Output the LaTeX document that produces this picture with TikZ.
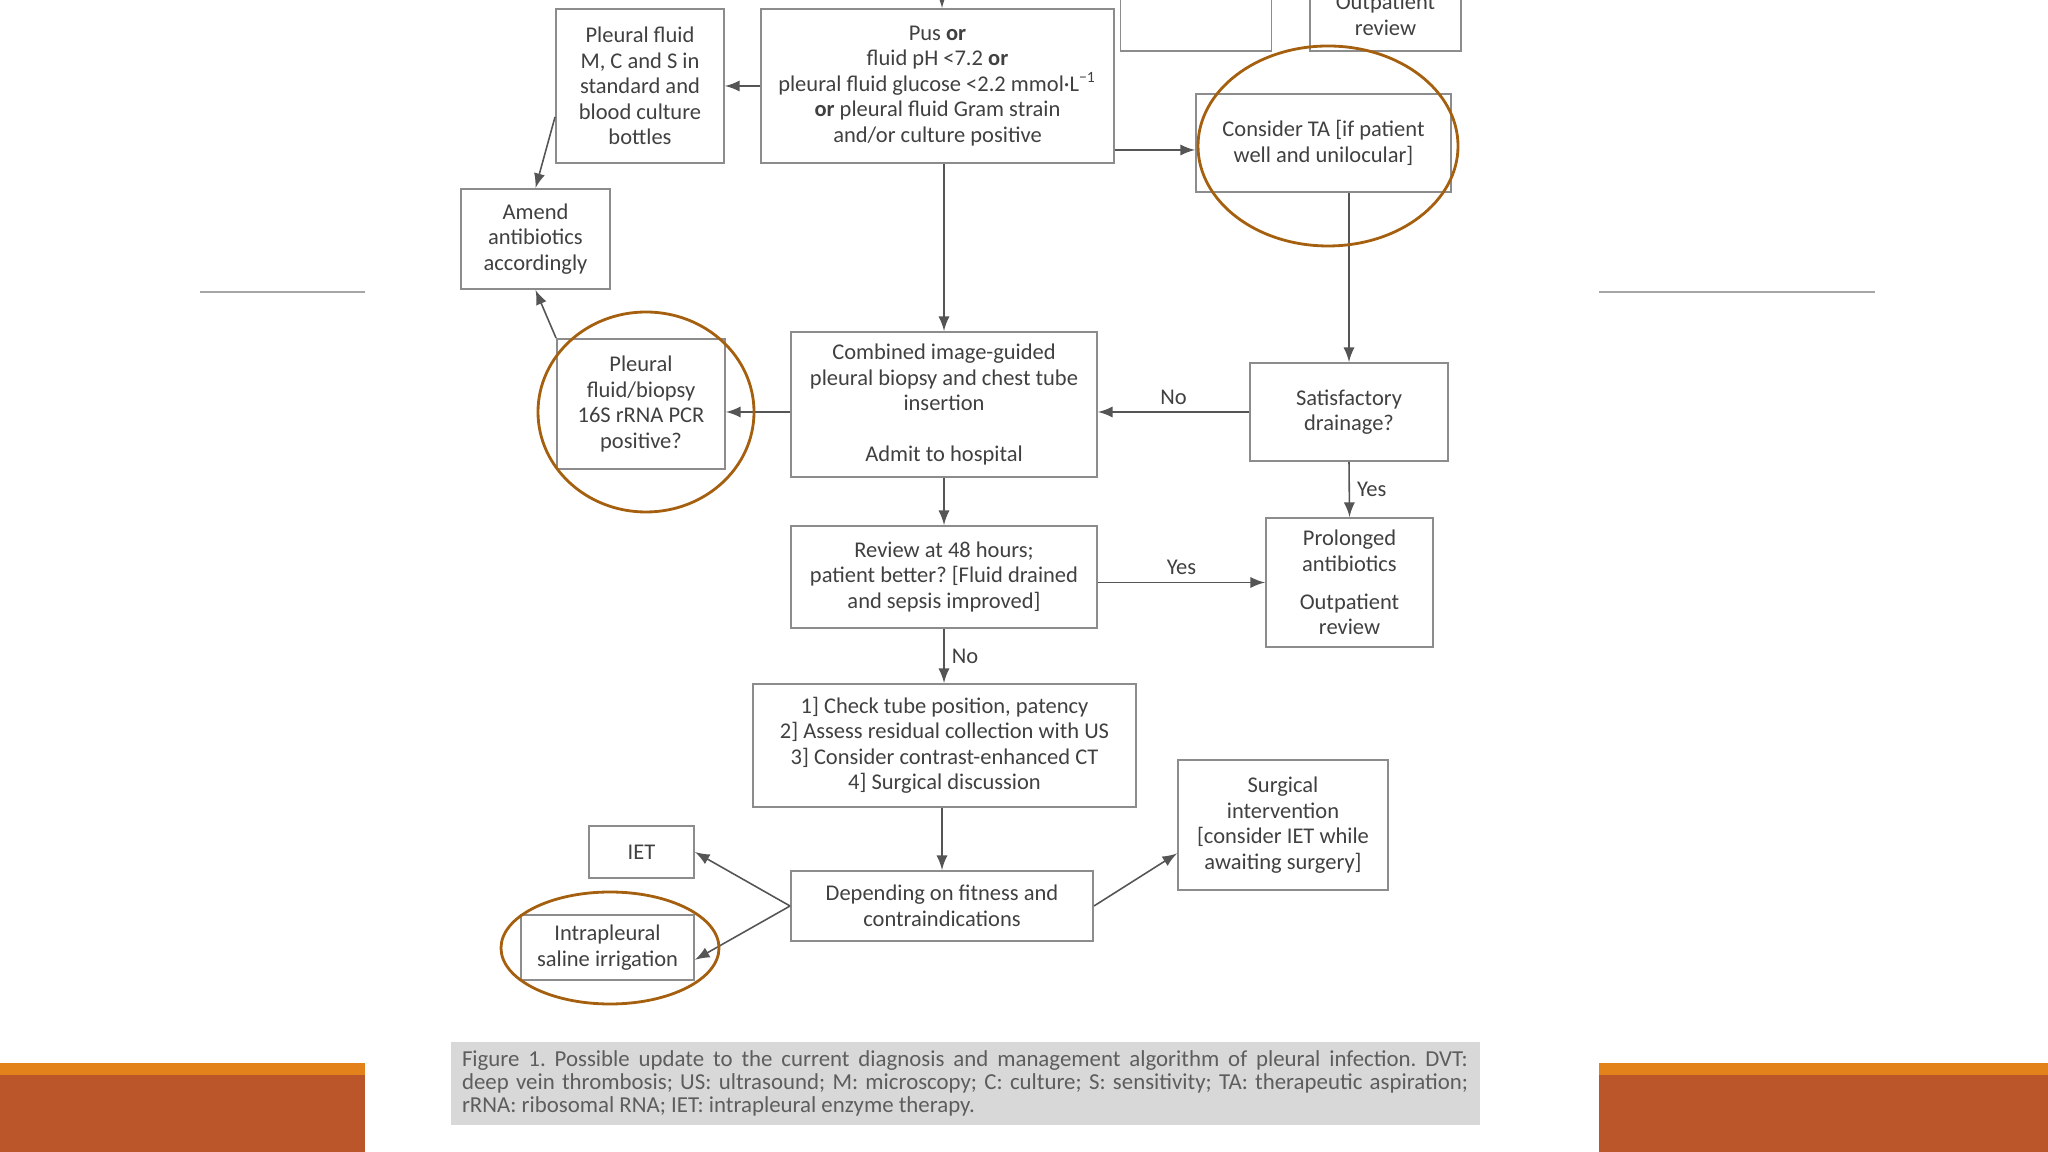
\documentclass[tikz,border=0pt]{standalone}
\usepackage{fontspec}
\setmainfont{Carlito}
\usepackage{tikz}
\usetikzlibrary{shapes,positioning,fit}
\usepackage{xcolor}
\definecolor{inkgray}{HTML}{404040}
\definecolor{framegray}{HTML}{8C8C8C}
\definecolor{linegray}{HTML}{555555}
\definecolor{ringbrown}{HTML}{A5600F}
\definecolor{capgray}{HTML}{D8D8D8}
\definecolor{bandorange}{HTML}{E3821A}
\definecolor{bandrust}{HTML}{BA562A}
\frenchspacing

\begin{document}
\begin{tikzpicture}[x=0.1mm, y=-0.1mm,
  box/.style={draw=framegray, line width=0.55pt, inner sep=0pt, align=center,
    text=inkgray, font=\fontsize{6.4pt}{7.25pt}\selectfont},
  arr/.style={draw=linegray, line width=0.45pt, -latex},
  lbl/.style={text=inkgray, font=\fontsize{6.4pt}{7.25pt}\selectfont, inner sep=2pt},
  ring/.style={draw=ringbrown, line width=0.8pt}]
  \useasboundingbox (0,0) rectangle (2048,1152);
  \clip (0,0) rectangle (2048,1152);
  \fill[bandrust] (0,1063) rectangle (365,1152);
  \fill[bandorange] (0,1063) rectangle (365,1075);
  \fill[bandrust] (1599,1063) rectangle (2048,1152);
  \fill[bandorange] (1599,1063) rectangle (2048,1075);
  \draw[gray!70, line width=0.45pt] (200,292) -- (365,292);
  \draw[gray!70, line width=0.45pt] (1599,292) -- (1875,292);

  \node[box, minimum width=16.8mm, minimum height=15.4mm] (fluidmcs) at (640,86)
    {Pleural fluid\\M, C and S in\\standard and\\blood culture\\bottles};
  \node[box, minimum width=35.3mm, minimum height=15.4mm] (pus) at (937.5,86)
    {Pus \textbf{or}\\fluid pH <7.2 \textbf{or}\\pleural fluid glucose <2.2 mmol·L\textsuperscript{−1}\\\textbf{or} pleural fluid Gram strain\\and/or culture positive};
  \node[box, minimum width=15.1mm, minimum height=7.2mm] (topmid) at (1196,15) {};
  \node[box, minimum width=15.1mm, minimum height=7.2mm] (topright) at (1385.5,15) {Outpatient\\review};
  \node[box, minimum width=14.9mm, minimum height=10mm] (amend) at (535.5,239)
    {Amend\\antibiotics\\accordingly};
  \node[box, minimum width=25.5mm, minimum height=9.8mm] (considerTA) at (1323.5,143)
    {Consider TA [if patient\\well and unilocular]};
  \node[box, minimum width=30.6mm, minimum height=14.5mm] (combined) at (944,404.5)
    {Combined image-guided\\pleural biopsy and chest tube\\insertion\\[7.25pt]Admit to hospital};
  \node[box, minimum width=16.8mm, minimum height=13mm] (pcr) at (641,404)
    {Pleural\\fluid/biopsy\\16S rRNA PCR\\positive?};
  \node[box, minimum width=19.8mm, minimum height=9.8mm] (drainage) at (1349,412)
    {Satisfactory\\drainage?};
  \node[box, minimum width=30.6mm, minimum height=10.2mm] (review) at (944,577)
    {Review at 48 hours;\\patient better? [Fluid drained\\and sepsis improved]};
  \node[box, minimum width=16.7mm, minimum height=12.9mm] (prolonged) at (1349.5,582.5)
    {Prolonged\\antibiotics\\[3.5pt]Outpatient\\review};
  \node[box, minimum width=38.3mm, minimum height=12.3mm] (check) at (944.5,745.5)
    {1] Check tube position, patency\\2] Assess residual collection with US\\3] Consider contrast-enhanced CT\\4] Surgical discussion};
  \node[box, minimum width=21mm, minimum height=13mm] (surgical) at (1283,825)
    {Surgical\\intervention\\{}[consider IET while\\awaiting surgery]};
  \node[box, minimum width=10.5mm, minimum height=5.2mm] (iet) at (641.5,852) {IET};
  \node[box, minimum width=30.2mm, minimum height=7mm] (depending) at (942,906)
    {Depending on fitness and\\contraindications};
  \node[box, minimum width=17.3mm, minimum height=6.5mm] (irrigation) at (607.5,947.5)
    {Intrapleural\\saline irrigation};

  \coordinate (entry) at (942,-10);
  \draw[arr] (entry) -- (entry |- pus.north);
  \draw[arr] (pus.west) -- (fluidmcs.east);
  \draw[arr] (fluidmcs.200) -- (amend.north);
  \draw[arr] (pus.east |- 0,150) -- (considerTA.west |- 0,150);
  \draw[arr] (combined.north |- pus.south) -- (combined.north);
  \draw[arr] (drainage.north |- considerTA.south) -- (drainage.north);
  \draw[arr] (drainage.west) -- node[lbl, above] (lblno) {No} (drainage.west -| combined.east);
  \draw[arr] (combined.west |- drainage.west) -- (pcr.east |- drainage.west);
  \draw[arr] (pcr.north west) -- (amend.south);
  \draw[arr] (combined.south) -- (review.north);
  \draw[arr] (drainage.south) -- node[lbl, right] (lblyes) {Yes} (prolonged.north);
  \draw[arr] (review.east |- prolonged.west) -- node[lbl, above] (lblbetter) {Yes} (prolonged.west);
  \draw[arr] (review.south) -- node[lbl, right] (lblnot) {No} (review.south |- check.north);
  \draw[arr] (depending.north |- check.south) -- (depending.north);
  \draw[arr] (depending.west) -- (iet.east);
  \draw[arr] (depending.west) -- (irrigation.-8);
  \draw[arr] (depending.east) -- (surgical.195);

  \draw[ring] (1328,146) ellipse [x radius=13mm, y radius=10mm];
  \draw[ring] (646,412) ellipse [x radius=10.8mm, y radius=10mm];
  \draw[ring] (610,948) ellipse [x radius=10.9mm, y radius=5.6mm];

  \node[fill=capgray, minimum width=102.9mm, minimum height=8.3mm, inner sep=0pt,
    text=inkgray!85, font=\fontsize{6.5pt}{6.6pt}\selectfont] (caption) at (965,1083.5)
    {\parbox{100.6mm}{Figure 1. Possible update to the current diagnosis and management algorithm of pleural infection. DVT:\linebreak deep vein thrombosis; US: ultrasound; M: microscopy; C: culture; S: sensitivity; TA: therapeutic aspiration;\linebreak rRNA: ribosomal RNA; IET: intrapleural enzyme therapy.}};
\end{tikzpicture}
\end{document}
